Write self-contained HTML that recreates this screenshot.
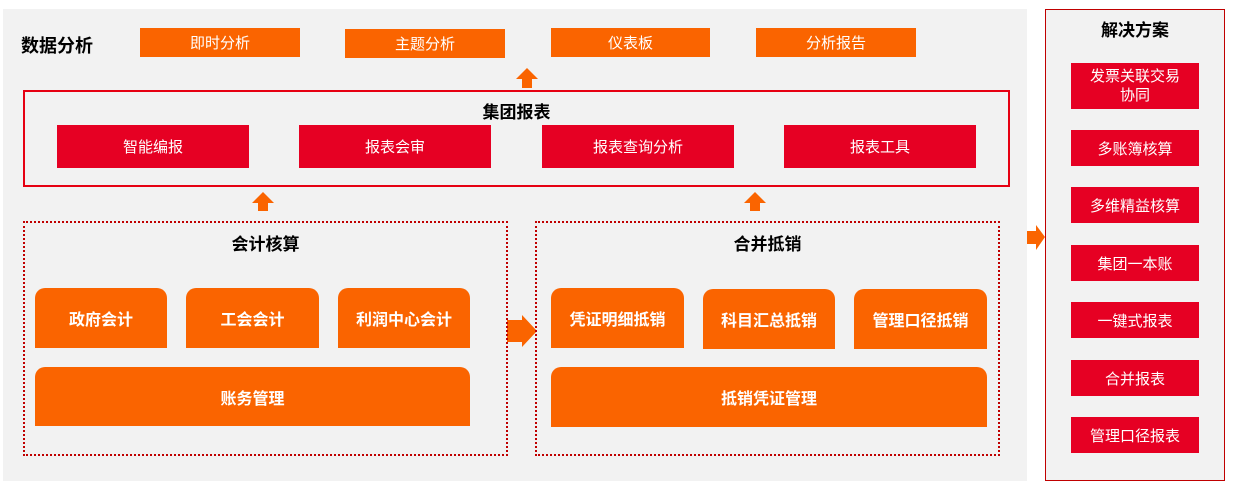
<!DOCTYPE html>
<html><head><meta charset="utf-8"><style>
body{margin:0;width:1233px;height:485px;background:#fff;position:relative;overflow:hidden;font-family:"Liberation Sans","Noto Sans CJK SC",sans-serif}
div{position:absolute;box-sizing:border-box}
.c{display:flex;align-items:center;justify-content:center;text-align:center}
.o{background:#fa6400;color:#fff;font-size:15px}
.r{background:#e60023;color:#fff;font-size:15px}
.ob{background:#fa6400;color:#fff;font-size:16px;font-weight:bold;border-radius:10px 10px 0 0}
.t{font-weight:bold;font-size:17px;color:#000}
.dot{border:2px dotted #c00000}
</style></head><body>
<div style="left:3px;top:9px;width:1024px;height:472px;background:#f2f2f2"></div>
<div class="t" style="left:21px;top:32px;font-size:18px">数据分析</div>
<div class="c o" style="left:140px;top:28px;width:160px;height:29px">即时分析</div>
<div class="c o" style="left:345px;top:29px;width:160px;height:29px">主题分析</div>
<div class="c o" style="left:551px;top:28px;width:159px;height:29px">仪表板</div>
<div class="c o" style="left:756px;top:28px;width:160px;height:29px">分析报告</div>
<svg style="position:absolute;left:0;top:0" width="1233" height="485">
<polygon points="527,68 538,79 532,79 532,88 522,88 522,79 516,79" fill="#fa6400"/>
<polygon points="263,192 274,203 268,203 268,211 258,211 258,203 252,203" fill="#fa6400"/>
<polygon points="755,192 766,203 760,203 760,211 750,211 750,203 744,203" fill="#fa6400"/>
<polygon points="507,320 522,320 522,315 537,331 522,347 522,342 507,342" fill="#fa6400"/>
<polygon points="1027,231 1036,231 1036,225 1045,237 1036,250 1036,244 1027,244" fill="#fa6400"/>
</svg>
<div style="left:23px;top:90px;width:987px;height:97px;border:2px solid #e60012"></div>
<div class="t" style="left:23px;top:98px;width:987px;text-align:center">集团报表</div>
<div class="c r" style="left:57px;top:125px;width:192px;height:43px">智能编报</div>
<div class="c r" style="left:299px;top:125px;width:192px;height:43px">报表会审</div>
<div class="c r" style="left:542px;top:125px;width:192px;height:43px">报表查询分析</div>
<div class="c r" style="left:784px;top:125px;width:192px;height:43px">报表工具</div>
<div class="dot" style="left:23px;top:221px;width:485px;height:235px"></div>
<div class="t" style="left:23px;top:230px;width:485px;text-align:center">会计核算</div>
<div class="c ob" style="left:35px;top:288px;width:132px;height:60px">政府会计</div>
<div class="c ob" style="left:186px;top:288px;width:133px;height:60px">工会会计</div>
<div class="c ob" style="left:338px;top:288px;width:132px;height:60px">利润中心会计</div>
<div class="c ob" style="left:35px;top:367px;width:435px;height:59px">账务管理</div>
<div class="dot" style="left:535px;top:221px;width:465px;height:235px"></div>
<div class="t" style="left:535px;top:230px;width:465px;text-align:center">合并抵销</div>
<div class="c ob" style="left:551px;top:288px;width:133px;height:60px">凭证明细抵销</div>
<div class="c ob" style="left:703px;top:289px;width:132px;height:60px">科目汇总抵销</div>
<div class="c ob" style="left:854px;top:289px;width:133px;height:60px">管理口径抵销</div>
<div class="c ob" style="left:551px;top:367px;width:436px;height:60px">抵销凭证管理</div>
<div style="left:1045px;top:9px;width:180px;height:472px;border:1px solid #c00000;background:#f2f2f2"></div>
<div class="t" style="left:1045px;top:16px;width:180px;text-align:center">解决方案</div>
<div class="c r" style="left:1071px;top:63px;width:128px;height:46px;line-height:19px">发票关联交易<br>协同</div>
<div class="c r" style="left:1071px;top:130px;width:128px;height:36px">多账簿核算</div>
<div class="c r" style="left:1071px;top:187px;width:128px;height:36px">多维精益核算</div>
<div class="c r" style="left:1071px;top:245px;width:128px;height:36px">集团一本账</div>
<div class="c r" style="left:1071px;top:302px;width:128px;height:36px">一键式报表</div>
<div class="c r" style="left:1071px;top:360px;width:128px;height:36px">合并报表</div>
<div class="c r" style="left:1071px;top:417px;width:128px;height:36px">管理口径报表</div>
</body></html>
